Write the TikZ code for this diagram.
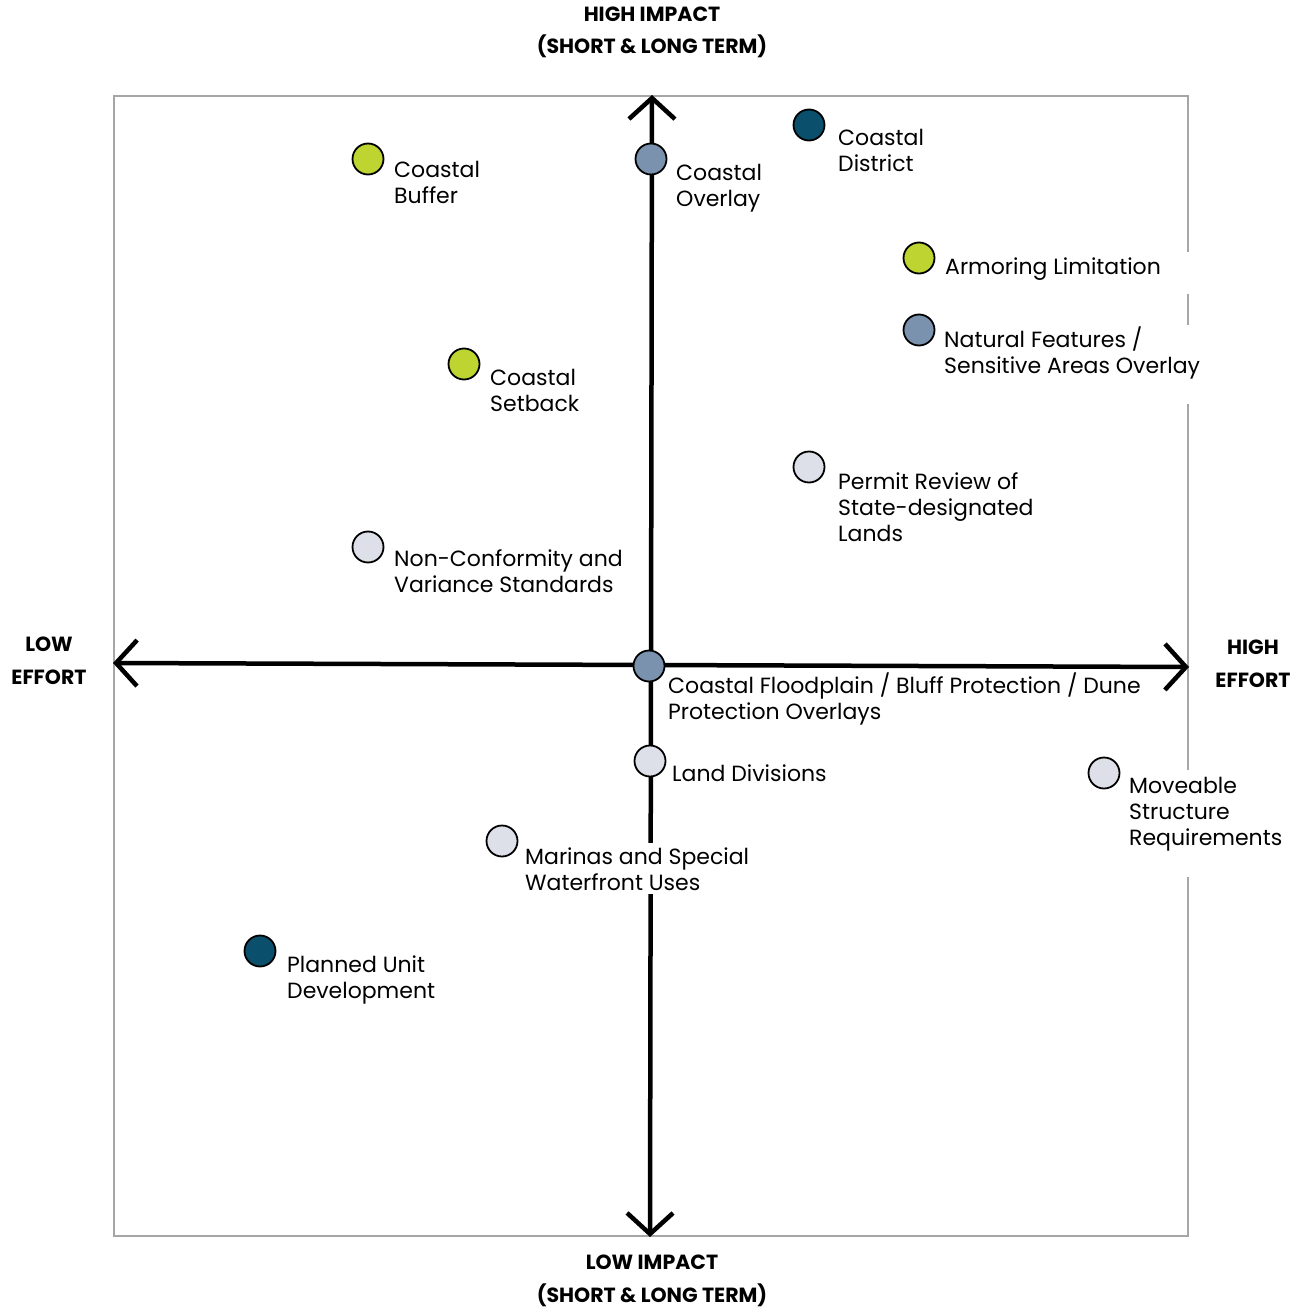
\documentclass[tikz,border=0pt]{standalone}
\usepackage{fontspec}
\setmainfont{Poppins}
\usetikzlibrary{arrows.meta}
\definecolor{cgreen}{RGB}{189,212,49}
\definecolor{cslate}{RGB}{122,146,174}
\definecolor{cteal}{RGB}{10,79,107}
\definecolor{clight}{RGB}{221,224,232}
\definecolor{cframe}{RGB}{166,166,166}
\tikzset{
  frameline/.style={draw=cframe,line width=2pt},
  axisline/.style={line width=4.5pt,{Straight Barb[length=21pt,width=46pt]}-{Straight Barb[length=21pt,width=46pt]}},
  dot/.style={circle,draw=black,line width=1.8pt,minimum size=31pt,inner sep=0pt},
  lbl/.style={anchor=base west,align=left,inner sep=0pt,font=\fontsize{22}{26}\selectfont},
  axlbl/.style={anchor=base,align=center,inner sep=0pt,font=\fontsize{20.5}{32.5}\selectfont\bfseries},
}
\begin{document}
\begin{tikzpicture}[x=1pt,y=-1pt]
\useasboundingbox (0,0) rectangle (1309,1308);
% frame with gaps on the right edge
\draw[frameline] (1188,252) -- (1188,96) -- (114,96) -- (114,1236) -- (1188,1236) -- (1188,877);
\draw[frameline] (1188,294) -- (1188,325);
\draw[frameline] (1188,404) -- (1188,770);
% axes
\coordinate (ytop) at (652,95);
\coordinate (ybot) at (650,1237);
\coordinate (xleft) at (113,663);
\coordinate (xright) at (1189,667);
\draw[axisline] (ybot) -- (ytop);
\draw[axisline] (xleft) -- (xright);
% axis labels (base = baseline of last line)
\node[axlbl] (hi) at (652,54) {HIGH IMPACT\\(SHORT \& LONG TERM)};
\node[axlbl] (lo) at (652,1302) {LOW IMPACT\\(SHORT \& LONG TERM)};
\node[axlbl] (le) at (49,684) {LOW\\EFFORT};
\node[axlbl] (he) at (1253,687) {HIGH\\EFFORT};
% labels (base = baseline of last line)
\node[lbl] (l1) at (394,204) {Coastal\\Buffer};
\node[lbl] (l2) at (676,207) {Coastal\\Overlay};
\node[lbl] (l3) at (838,172) {Coastal\\District};
\node[lbl] (l4) at (945,274) {Armoring Limitation};
\node[lbl] (l5) at (944,373) {Natural Features /\\Sensitive Areas Overlay};
\node[lbl] (l6) at (490,411) {Coastal\\Setback};
\node[lbl] (l7) at (838,541) {Permit Review of\\State-designated\\Lands};
\node[lbl] (l8) at (394,592) {Non-Conformity and\\Variance Standards};
\node[lbl] (l9) at (668,719) {Coastal Floodplain / Bluff Protection / Dune\\Protection Overlays};
\node[lbl] (l10) at (672,781) {Land Divisions};
\node[lbl] (l11) at (1129,845) {Moveable\\Structure\\Requirements};
\node[lbl,fill=white,inner ysep=4pt] (l12) at (525,890) {Marinas and Special\\Waterfront Uses};
\node[lbl] (l13) at (287,998) {Planned Unit\\Development};
% dots
\node[dot,fill=cgreen] (d1) at (368,159) {};
\node[dot,fill=cslate] (d2) at (651,159) {};
\node[dot,fill=cteal] (d3) at (809,125) {};
\node[dot,fill=cgreen] (d4) at (919,258) {};
\node[dot,fill=cslate] (d5) at (919,330) {};
\node[dot,fill=cgreen] (d6) at (464,364) {};
\node[dot,fill=clight] (d7) at (809,467) {};
\node[dot,fill=clight] (d8) at (368,547) {};
\node[dot,fill=cslate] (d9) at (649,666) {};
\node[dot,fill=clight] (d10) at (650,761) {};
\node[dot,fill=clight] (d11) at (1104,773) {};
\node[dot,fill=clight] (d12) at (502,841) {};
\node[dot,fill=cteal] (d13) at (260,951) {};
\end{tikzpicture}
\end{document}
